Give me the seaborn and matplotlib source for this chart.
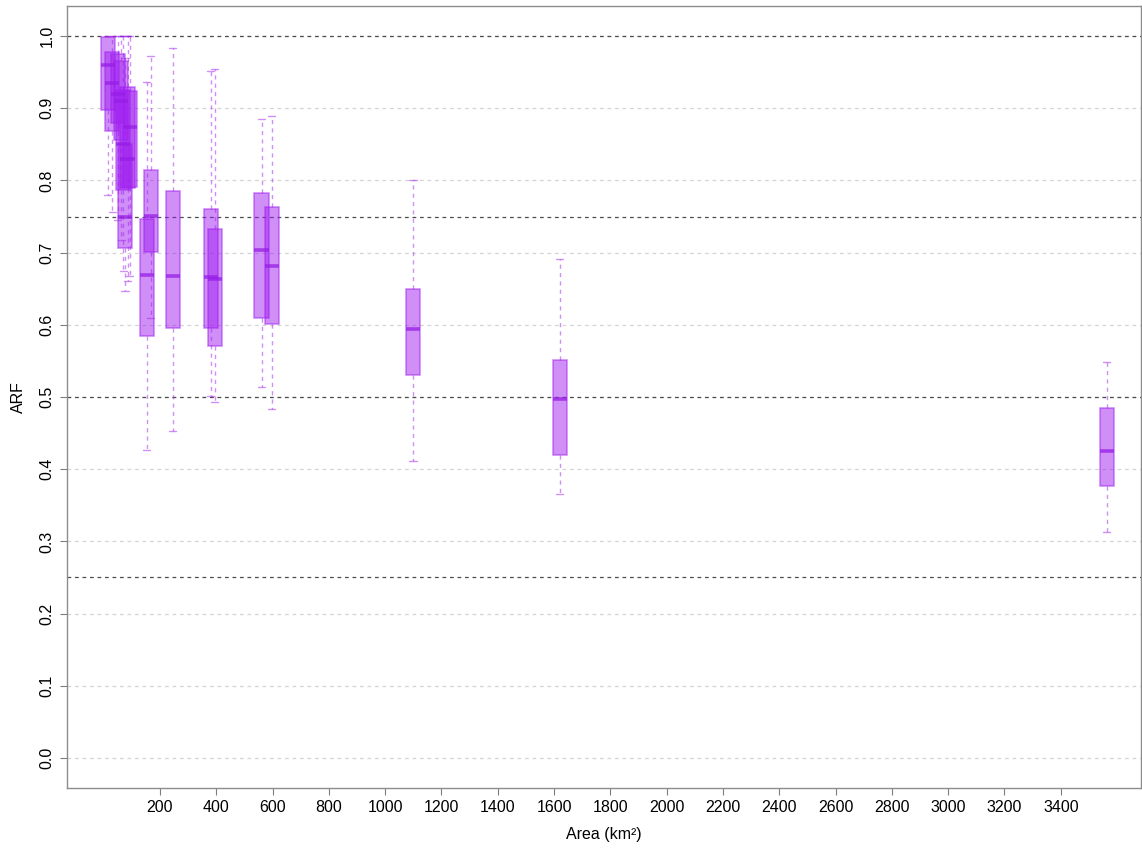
import numpy as np
import matplotlib
matplotlib.use("Agg")
import matplotlib.pyplot as plt
import seaborn as sns

# Catchment area (km²) of each box and its ARF summary statistics
area = [15, 31, 50, 62, 70, 76, 85, 93, 154, 168, 245, 381, 395, 561, 598, 1099, 1621, 3564]
whisker_low = [0.780, 0.756, 0.745, 0.718, 0.675, 0.647, 0.660, 0.668, 0.427, 0.610, 0.453,
               0.501, 0.493, 0.514, 0.483, 0.411, 0.366, 0.313]
quartile_1 = [0.897, 0.868, 0.879, 0.856, 0.787, 0.707, 0.790, 0.791, 0.585, 0.701, 0.596,
              0.595, 0.570, 0.610, 0.601, 0.530, 0.420, 0.377]
median = [0.960, 0.935, 0.920, 0.910, 0.850, 0.750, 0.830, 0.874, 0.669, 0.751, 0.667,
          0.666, 0.663, 0.703, 0.681, 0.594, 0.497, 0.425]
quartile_3 = [0.998, 0.978, 0.975, 0.965, 0.925, 0.850, 0.930, 0.924, 0.746, 0.815, 0.786,
              0.760, 0.733, 0.782, 0.763, 0.650, 0.551, 0.485]
whisker_high = [1.000, 1.000, 1.000, 1.000, 1.000, 0.970, 1.000, 1.000, 0.937, 0.973, 0.983,
                0.951, 0.954, 0.885, 0.889, 0.800, 0.691, 0.548]

x_ticks = list(range(200, 3401, 200))
y_ticks = [0.0, 0.1, 0.2, 0.3, 0.4, 0.5, 0.6, 0.7, 0.8, 0.9, 1.0]
reference_levels = [0.25, 0.5, 0.75, 1.0]

sns.set_theme(style="white")
plt.rcParams["font.family"] = ["Liberation Sans", "DejaVu Sans"]
plt.rcParams["text.color"] = "black"
plt.rcParams["axes.labelcolor"] = "black"
plt.rcParams["xtick.color"] = "black"
plt.rcParams["ytick.color"] = "black"

purple = (160 / 255, 32 / 255, 240 / 255, 0.5)
purple_median = (150 / 255, 30 / 255, 230 / 255, 0.75)

fig = plt.figure(figsize=(11.42, 8.48), dpi=100)
ax = fig.add_axes([67 / 1142, 1 - 788 / 848, (1141 - 67) / 1142, (788 - 6) / 848])

# background grid and reference levels
for yv in y_ticks:
    ax.axhline(yv, color="#d4d4d4", lw=0.9, ls=(0, (3, 3)), zorder=0)
for yv in reference_levels:
    ax.axhline(yv, color="#4d4d4d", lw=0.9, ls=(0, (3, 3)), zorder=1)

stats = [
    dict(whislo=lo, q1=a, med=m, q3=b, whishi=hi, fliers=[])
    for lo, a, m, b, hi in zip(whisker_low, quartile_1, median, quartile_3, whisker_high)
]
ax.bxp(
    stats,
    positions=area,
    widths=50,
    patch_artist=True,
    showfliers=False,
    manage_ticks=False,
    boxprops=dict(facecolor=purple, edgecolor=purple, linewidth=1.2),
    medianprops=dict(color=purple_median, linewidth=2.6),
    whiskerprops=dict(color=purple, linewidth=1.0, linestyle=(0, (3, 3))),
    capprops=dict(color=purple, linewidth=1.0),
    capwidths=25,
    zorder=3,
)

ax.set_xlim(-130, 3685)
ax.set_ylim(-0.0416, 1.0416)
ax.set_xticks(x_ticks)
ax.set_xticklabels([str(v) for v in x_ticks], fontsize=11.5)
ax.set_yticks(y_ticks)
ax.set_yticklabels([f"{v:.1f}" for v in y_ticks], fontsize=11.5, rotation=90, va="center")
ax.tick_params(axis="both", length=5, width=0.8, color="#7f7f7f", labelcolor="black",
               direction="out", bottom=True, left=True, pad=4)
for s in ax.spines.values():
    s.set_color("#8c8c8c")
    s.set_linewidth(1.0)

ax.set_xlabel("Area (km²)", fontsize=11.5, labelpad=8, color="black")
ax.set_ylabel("ARF", fontsize=11.5, labelpad=10, color="black")
ax.grid(False)

fig.savefig("out.png", dpi=100)
